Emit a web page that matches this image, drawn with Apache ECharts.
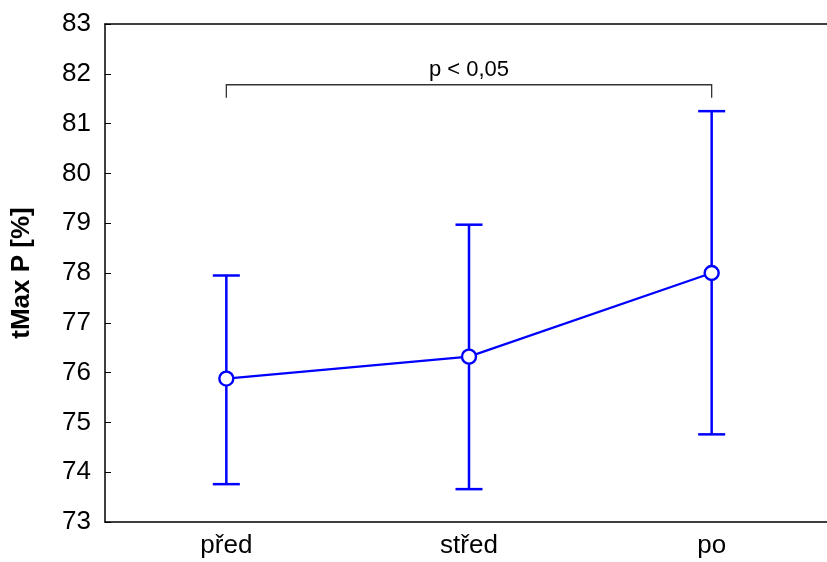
<!DOCTYPE html>
<html><head><meta charset="utf-8">
<script src="https://cdn.jsdelivr.net/npm/echarts@6/dist/echarts.min.js"></script>
<style>html,body{margin:0;padding:0;background:#fff}#c{width:827px;height:562px}</style>
</head><body><div id="c"></div>
<script>
const categories = ['před', 'střed', 'po'];
const means = [75.88, 76.32, 78.0];
const upper = [77.95, 78.97, 81.25];
const lower = [73.76, 73.66, 74.76];
const yTicks = [73, 74, 75, 76, 77, 78, 79, 80, 81, 82, 83];
const bracket = [[0, 2, 81.78, 81.52]];
const pText = 'p < 0,05';

const chart = echarts.init(document.getElementById('c'));
const blue = '#0000ff';
const errData = categories.map((c, i) => [i, lower[i], upper[i]]);
chart.setOption({
  animation: false,
  grid: { left: 105, top: 24, width: 728, height: 498, outerBoundsMode: 'none', containLabel: false },
  xAxis: [{
    type: 'category', data: categories, boundaryGap: true,
    axisLine: { lineStyle: { color: '#000', width: 1.5 } },
    axisTick: { inside: true, alignWithLabel: true, length: 6, lineStyle: { color: '#000' } },
    axisLabel: { color: '#000', fontSize: 26, fontFamily: 'Liberation Sans', margin: 11 },
    splitLine: { show: false }
  }, {
    type: 'category', data: categories, position: 'top', boundaryGap: true,
    axisLine: { lineStyle: { color: '#000', width: 1.5 } },
    axisTick: { inside: true, alignWithLabel: true, length: 6, lineStyle: { color: '#000' } },
    axisLabel: { show: false }
  }],
  yAxis: {
    type: 'value', min: yTicks[0], max: yTicks[yTicks.length - 1], interval: 1,
    name: 'tMax P [%]', nameLocation: 'middle', nameGap: 70, nameRotate: 90,
    nameTextStyle: { color: '#000', fontSize: 26, fontWeight: 'bold', fontFamily: 'Liberation Sans' },
    axisLine: { show: true, lineStyle: { color: '#000', width: 1.5 } },
    axisTick: { show: true, inside: true, length: 6, lineStyle: { color: '#000' } },
    axisLabel: { color: '#000', fontSize: 26, fontFamily: 'Liberation Sans', margin: 14 },
    splitLine: { show: false }
  },
  series: [{
    type: 'custom', data: errData, z: 2,
    renderItem: (params, api) => {
      const lo = api.coord([api.value(0), api.value(1)]);
      const hi = api.coord([api.value(0), api.value(2)]);
      const hw = 13.5;
      const st = { stroke: blue, lineWidth: 2.5 };
      return { type: 'group', children: [
        { type: 'line', shape: { x1: lo[0], y1: lo[1], x2: hi[0], y2: hi[1] }, style: st },
        { type: 'line', shape: { x1: lo[0] - hw, y1: lo[1], x2: lo[0] + hw, y2: lo[1] }, style: st },
        { type: 'line', shape: { x1: hi[0] - hw, y1: hi[1], x2: hi[0] + hw, y2: hi[1] }, style: st }
      ]};
    }
  }, {
    type: 'line', data: means, z: 3,
    lineStyle: { color: blue, width: 2.2 },
    symbol: 'circle', symbolSize: 14,
    itemStyle: { color: '#fff', borderColor: blue, borderWidth: 2.4 }
  }, {
    type: 'custom', data: bracket, z: 1,
    renderItem: (params, api) => {
      const a = api.coord([api.value(0), api.value(2)]);
      const b = api.coord([api.value(1), api.value(2)]);
      const a2 = api.coord([api.value(0), api.value(3)]);
      const st = { stroke: '#333', lineWidth: 1.3, fill: null };
      return { type: 'group', children: [
        { type: 'polyline', shape: { points: [[a[0], a2[1]], [a[0], a[1]], [b[0], b[1]], [b[0], a2[1]]] }, style: st },
        { type: 'text', style: { text: pText, x: (a[0] + b[0]) / 2, y: a[1] - 4, align: 'center', verticalAlign: 'bottom', fill: '#000', fontSize: 22, fontFamily: 'Liberation Sans' } }
      ]};
    }
  }]
});
</script></body></html>
